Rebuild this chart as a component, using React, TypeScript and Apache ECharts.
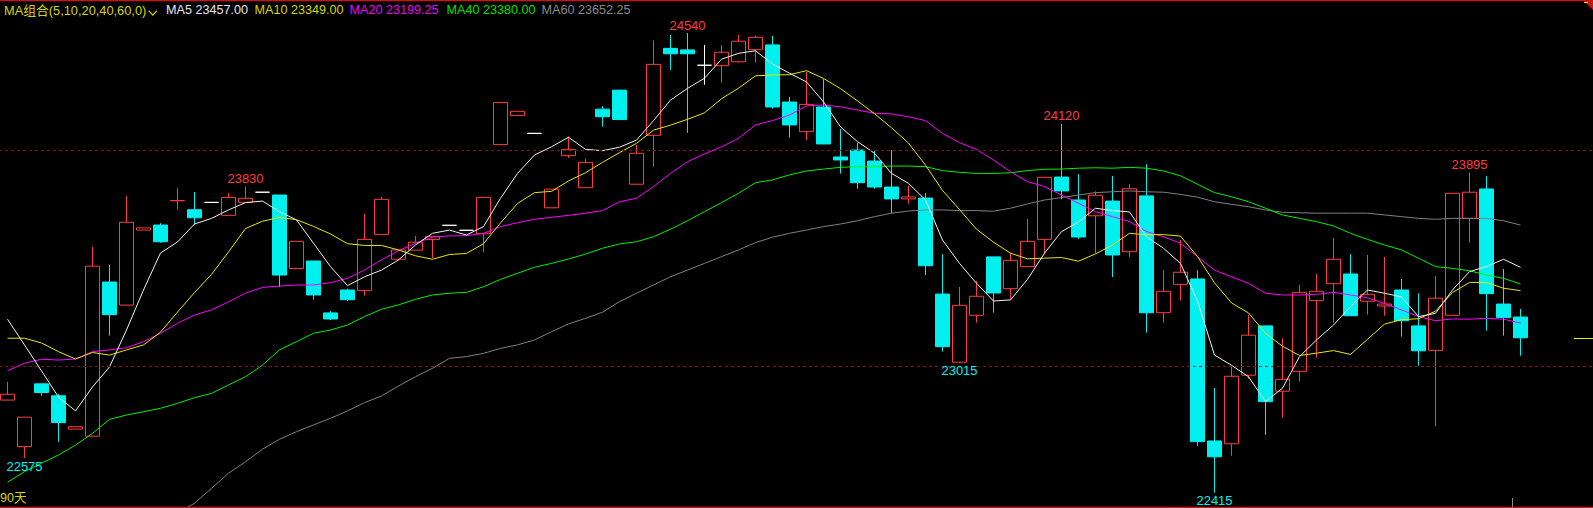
import React, { useEffect, useRef } from 'react';
import * as echarts from 'echarts';

// ---------- data ----------
const days: string[] = Array.from({ length: 90 }, (_, i) => 'D' + (i + 1));
const padCats: string[] = [' ', '  ', '   ', '    '];

const opens = [
  22843, 22628, 22918, 22863, 22709, 22676, 23389, 23282, 23629, 23652,
  23765, 23723, 23757, 23697, 23757, 23804, 23791, 23451, 23486, 23246,
  23352, 23349, 23609, 23494, 23536, 23585, 23651, 23628, 23612, 24024,
  24159, 24076, 23732, 23973, 23825, 24188, 24276, 23841, 24067, 24469,
  24462, 24391, 24389, 24407, 24463, 24485, 24221, 24084, 24198, 23967,
  23999, 23948, 23828, 23773, 23777, 23333, 23018, 23235, 23505, 23358,
  23460, 23586, 23874, 23768, 23695, 23763, 23529, 23787, 23247, 23378,
  23403, 22654, 22641, 22958, 23186, 22884, 22976, 23303, 23381, 23426,
  23300, 23278, 23352, 23186, 23073, 23235, 23683, 23819, 23287, 23227,
];
const closes = [
  22870, 22764, 22878, 22739, 22720, 23462, 23238, 23665, 23639, 23575,
  23765, 23686, 23757, 23780, 23776, 23804, 23421, 23577, 23329, 23218,
  23307, 23586, 23771, 23537, 23573, 23600, 23651, 23628, 23780, 24219,
  24178, 24076, 23818, 24002, 23942, 24153, 24140, 23984, 24395, 24444,
  24444, 24391, 24451, 24502, 24520, 24198, 24115, 24210, 24027, 23953,
  23848, 23828, 23773, 23782, 23464, 23090, 23281, 23323, 23338, 23489,
  23577, 23873, 23810, 23597, 23790, 23514, 23820, 23247, 23346, 23434,
  22651, 22581, 22953, 23143, 22836, 22939, 23341, 23346, 23494, 23233,
  23332, 23287, 23210, 23071, 23314, 23799, 23804, 23335, 23224, 23131,
];
const lows = [
  22843, 22575, 22863, 22650, 22709, 22676, 23141, 23282, 23629, 23570,
  23723, 23653, 23757, 23697, 23757, 23804, 23365, 23451, 23307, 23213,
  23301, 23326, 23609, 23494, 23536, 23499, 23651, 23628, 23526, 24024,
  24159, 24076, 23732, 23962, 23825, 24107, 24140, 23841, 23922, 24369,
  24079, 24301, 24310, 24403, 24403, 24190, 24056, 24045, 24027, 23890,
  23820, 23820, 23706, 23751, 23421, 23067, 23015, 23201, 23247, 23309,
  23460, 23518, 23771, 23588, 23522, 23412, 23505, 23155, 23201, 23303,
  22632, 22415, 22586, 22942, 22682, 22762, 22928, 23039, 23201, 23233,
  23238, 23233, 23136, 23002, 22722, 23235, 23571, 23164, 23141, 23048,
];
const highs = [
  22927, 22764, 22918, 22872, 22720, 23551, 23468, 23786, 23639, 23661,
  23823, 23805, 23757, 23800, 23830, 23804, 23791, 23577, 23486, 23255,
  23358, 23705, 23782, 23537, 23602, 23600, 23651, 23628, 23780, 24219,
  24178, 24076, 23818, 24061, 23960, 24202, 24276, 24022, 24506, 24531,
  24540, 24485, 24485, 24531, 24526, 24526, 24244, 24361, 24327, 24096,
  24033, 23995, 23999, 23834, 23800, 23518, 23366, 23394, 23505, 23524,
  23680, 23873, 24120, 23888, 23808, 23879, 23842, 23934, 23444, 23583,
  23444, 22899, 22997, 23236, 23186, 23129, 23375, 23426, 23592, 23518,
  23514, 23505, 23403, 23337, 23417, 23799, 23895, 23879, 23449, 23264,
];
// candle tone: r = red (rise), c = cyan (fall), w = white (flat)
const tones = (
  'rrccrrcrrc' + 'rcwrrwcrcc' + 'crrrrrwwrr' + 'rwrrrccrrc' + 'cwrrrccrcc' +
  'cccrccrrcr' + 'rrccrcrcrr' + 'ccrrcrrrrc' + 'rrccrrrccc'
).split('');

const ma5 = [
  23217, 23098, 22978, 22857, 22793, 22904, 22996, 23167, 23352, 23523, 23574, 23657,
  23683, 23722, 23756, 23763, 23714, 23676, 23568, 23460, 23372, 23413, 23444, 23491,
  23560, 23614, 23629, 23606, 23645, 23776, 23891, 23976, 24014, 24058, 24002,
  23996, 24012, 24045, 24135, 24230, 24284, 24331, 24419, 24446, 24458, 24397, 24354,
  24314, 24222, 24106, 24038, 23984, 23891, 23845, 23768, 23583, 23475, 23383, 23301,
  23306, 23401, 23522, 23622, 23666, 23730, 23719, 23713, 23598, 23545, 23475, 23301,
  23051, 23004, 22951, 22836, 22898, 23044, 23121, 23190, 23275, 23352, 23337, 23320,
  23229, 23244, 23352, 23437, 23460, 23494, 23457,
];
const ma10 = [
  23129, 23129, 23107, 23067, 23033, 23063, 23051, 23075, 23098, 23157, 23250, 23340,
  23424, 23528, 23636, 23670, 23687, 23677, 23646, 23611, 23566, 23558, 23558, 23537,
  23510, 23494, 23516, 23521, 23566, 23662, 23752, 23802, 23808, 23856, 23894, 23942,
  23987, 24030, 24091, 24114, 24141, 24171, 24236, 24285, 24342, 24346, 24347, 24366,
  24330, 24283, 24226, 24167, 24102, 24031, 23929, 23812, 23724, 23633, 23573, 23522,
  23496, 23499, 23502, 23485, 23519, 23560, 23614, 23607, 23608, 23601, 23507, 23385,
  23292, 23246, 23152, 23092, 23049, 23060, 23072, 23054, 23124, 23194, 23215, 23219,
  23254, 23340, 23387, 23387, 23360, 23349,
];
const ma20 = [
  22979, 23013, 23032, 23028, 23033, 23067, 23075, 23085, 23113, 23152, 23198, 23236,
  23260, 23297, 23337, 23364, 23370, 23375, 23375, 23386, 23406, 23444, 23491, 23534,
  23568, 23596, 23602, 23603, 23614, 23645, 23663, 23679, 23688, 23697, 23707, 23719,
  23760, 23776, 23830, 23891, 23945, 23981, 24014, 24053, 24115, 24135, 24161, 24203,
  24207, 24199, 24184, 24169, 24166, 24153, 24135, 24076, 24033, 24002, 23953, 23899,
  23853, 23830, 23791, 23753, 23714, 23691, 23668, 23622, 23598, 23568, 23506, 23444,
  23413, 23383, 23337, 23329, 23329, 23332, 23341, 23329, 23316, 23290, 23260, 23229,
  23210, 23218, 23217, 23221, 23217, 23199,
];
const ma40 = [
  22463, 22512, 22551, 22589, 22635, 22689, 22754, 22774, 22789, 22805, 22828, 22854,
  22874, 22913, 22951, 23005, 23075, 23113, 23152, 23167, 23190, 23229, 23263, 23283,
  23309, 23329, 23337, 23341, 23367, 23401, 23429, 23457, 23475, 23495, 23518, 23545,
  23565, 23575, 23598, 23633, 23672, 23714, 23756, 23799, 23848, 23861, 23884, 23902,
  23911, 23919, 23922, 23922, 23925, 23925, 23922, 23904, 23896, 23891, 23891, 23894,
  23904, 23910, 23911, 23915, 23917, 23915, 23919, 23915, 23902, 23880, 23841, 23802,
  23783, 23760, 23730, 23699, 23683, 23668, 23648, 23614, 23586, 23560, 23537, 23499,
  23460, 23452, 23441, 23421, 23406, 23380,
];
const ma60 = [
  null, null, null, null, null, null, null, null, null, null, 22321, 22366,
  22435, 22505, 22558, 22616, 22662, 22697, 22728, 22759, 22793, 22831, 22862, 22908,
  22951, 22990, 23036, 23044, 23059, 23082, 23098, 23121, 23159, 23195, 23221, 23249,
  23298, 23337, 23375, 23413, 23444, 23475, 23506, 23537, 23571, 23596, 23614, 23629,
  23645, 23657, 23672, 23691, 23707, 23717, 23722, 23722, 23719, 23719, 23716, 23730,
  23750, 23768, 23779, 23791, 23802, 23806, 23810, 23806, 23804, 23794, 23781, 23760,
  23748, 23737, 23722, 23711, 23709, 23707, 23707, 23707, 23707, 23699, 23691, 23683,
  23679, 23683, 23683, 23683, 23672, 23652,
];

const maNames = ['MA5', 'MA10', 'MA20', 'MA40', 'MA60'];
const maLegendValues = ['23457.00', '23349.00', '23199.25', '23380.00', '23652.25'];
const guideLevels = [23000, 24000];
const highMarks = [14, 40, 62, 86];
const lowMarks = [1, 56, 71];
const priceTop = 24692.6;
const priceBottom = 22344.1;

// ---------- styles ----------
const RED = '#ff3c3c';
const CYAN = '#00f0f0';
const WHITE = '#ffffff';
const BORDER = '#c81414';
const YEL_TXT = '#d4d400';
const FONT = '"Liberation Sans", "Noto Sans CJK SC", sans-serif';
const maColors = ['#f2f2f2', '#e8e800', '#ff00ff', '#00f000', '#808080'];
const maTextColors = ['#e4e4f2', YEL_TXT, '#f000f0', '#00e000', '#8a8a8a'];
const maTextX = [166, 254.5, 349.5, 446.5, 541.5];
const OX = 1; // the chart box starts 1px left of the page

function toneStyle(t: string) {
  const c = t === 'r' ? RED : t === 'c' ? CYAN : WHITE;
  const fill = t === 'r' ? '#000000' : c;
  return { color: fill, color0: fill, borderColor: c, borderColor0: c, borderColorDoji: c, borderWidth: 1 };
}

export default function App() {
  const ref = useRef<HTMLDivElement>(null);
  useEffect(() => {
    const chart = echarts.init(ref.current!, undefined, { renderer: 'svg', width: 1598, height: 508 });
    const candleData = opens.map((o, i) => ({
      value: [o, closes[i], lows[i], highs[i]],
      itemStyle: toneStyle(tones[i]),
    }));
    const maData = [ma5, ma10, ma20, ma40, ma60];
    const option: any = {
      animation: false,
      backgroundColor: '#000000',
      grid: { left: 0, right: 0, top: 0, bottom: 0, containLabel: false },
      xAxis: {
        type: 'category',
        data: [...days, ...padCats],
        boundaryGap: true,
        axisLine: { show: false },
        axisTick: { show: false },
        axisLabel: { show: false },
        splitLine: { show: false },
      },
      yAxis: {
        type: 'value',
        min: priceBottom,
        max: priceTop,
        axisLine: { show: false },
        axisTick: { show: false },
        axisLabel: { show: false },
        splitLine: { show: false },
      },
      series: [
        {
          type: 'candlestick',
          data: candleData,
          barWidth: 14,
          z: 2,
          silent: true,
          markLine: {
            silent: true,
            symbol: ['none', 'none'],
            label: { show: false },
            lineStyle: { color: '#8c1010', type: [3, 3], width: 1 },
            data: guideLevels.map((v) => ({ yAxis: v })),
          },
          markPoint: {
            symbol: 'circle',
            symbolSize: 1,
            silent: true,
            itemStyle: { color: 'transparent' },
            label: { show: true, fontSize: 13, fontFamily: FONT, formatter: '{c}' },
            data: [
              ...highMarks.map((i) => ({
                coord: [days[i], highs[i]],
                value: highs[i],
                label: { position: 'top', distance: 1, color: RED },
              })),
              ...lowMarks.map((i) => ({
                coord: [days[i], lows[i]],
                value: lows[i],
                label: { position: 'bottom', distance: 1, color: CYAN },
              })),
            ],
          },
        },
        ...maData.map((d, k) => ({
          type: 'line',
          name: maNames[k],
          data: d,
          z: 3 + (4 - k) * 0.01,
          showSymbol: false,
          symbol: 'none',
          silent: true,
          connectNulls: false,
          lineStyle: { color: maColors[k], width: 1 },
        })),
      ],
    };
    chart.setOption(option);

    const pt = chart.convertToPixel({ gridIndex: 0 }, [days[89], closes[89]]) as number[];
    const yLast = Math.round(pt[1]) + 0.5;
    const txt = (text: string, x: number, y: number, fill: string, size = 12.6) => ({
      type: 'text',
      x: x + OX,
      y,
      z: 100,
      silent: true,
      style: { text, fill, font: size + 'px ' + FONT, textVerticalAlign: 'middle', verticalAlign: 'middle' },
    });
    const graphics: any[] = [
      { type: 'rect', z: 100, silent: true, shape: { x: 0, y: 0, width: 1598, height: 1.2 }, style: { fill: BORDER } },
      { type: 'rect', z: 100, silent: true, shape: { x: 0, y: 506.8, width: 1598, height: 1.2 }, style: { fill: BORDER } },
      { type: 'polygon', z: 100, silent: true, shape: { points: [[1583 + OX, 0], [1593 + OX, 0], [1593 + OX, 10]] }, style: { fill: BORDER } },
      { type: 'line', z: 101, silent: true, shape: { x1: 1584 + OX, y1: 2.5, x2: 1588 + OX, y2: 2.5 }, style: { stroke: '#e8e800', lineWidth: 1 } },
      { type: 'line', z: 100, silent: true, shape: { x1: 1574 + OX, y1: yLast, x2: 1594 + OX, y2: yLast }, style: { stroke: '#e8e800', lineWidth: 1 } },
      { type: 'line', z: 100, silent: true, shape: { x1: 1512.5 + OX, y1: 498, x2: 1512.5 + OX, y2: 507 }, style: { stroke: '#8a8a8a', lineWidth: 1 } },
      txt('MA组合(5,10,20,40,60,0)', 4, 10, YEL_TXT, 12.8),
      {
        type: 'polyline', z: 100, silent: true,
        shape: { points: [[148.7 + OX, 10.7], [152.7 + OX, 15.2], [157 + OX, 10.7]] },
        style: { stroke: YEL_TXT, lineWidth: 1.2, fill: 'none' },
      },
      ...maNames.map((n, k) => txt(n + ' ' + maLegendValues[k], maTextX[k], 10, maTextColors[k])),
      txt('90天', 0, 498, YEL_TXT),
    ];
    chart.setOption({ graphic: graphics });
    return () => chart.dispose();
  }, []);
  return (
    <div
      ref={ref}
      style={{ position: 'fixed', left: -OX, top: 0, width: 1598, height: 508, background: '#000' }}
    />
  );
}
